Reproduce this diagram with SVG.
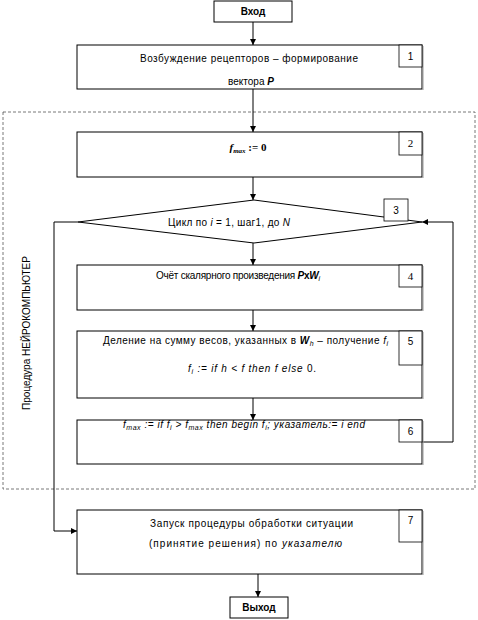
<svg xmlns="http://www.w3.org/2000/svg" width="478" height="620" viewBox="0 0 478 620">
<style>
.box{fill:#fff;stroke:#000;stroke-width:1}
.num{fill:#fff;stroke:#000;stroke-width:0.8}
.sh{stroke:#999;stroke-width:1}
.t{font-family:"Liberation Sans",Arial,sans-serif;font-size:10px;fill:#000}
.s{font-family:"Liberation Serif","Times New Roman",serif;font-size:11px;fill:#000}
.b{font-weight:bold}
.i{font-style:italic}
.line{fill:none;stroke:#000;stroke-width:1}
.dash{fill:none;stroke:#555;stroke-width:0.8;stroke-dasharray:3 2}
</style>
<defs>
<marker id="ar" markerUnits="userSpaceOnUse" markerWidth="6" markerHeight="6" refX="6" refY="3" orient="auto">
<path d="M0,0 L6,3 L0,6 z" fill="#000"/>
</marker>
</defs>
<rect class="dash" x="3" y="112" width="472" height="377"/>
<text class="t" x="0" y="0" font-size="8" text-anchor="middle" transform="translate(30,333) rotate(-90)">Процедура НЕЙРОКОМПЬЮТЕР</text>
<g id="connectors">
<line class="line" x1="253" y1="22" x2="253" y2="45" marker-end="url(#ar)"/>
<line class="line" x1="253" y1="89" x2="253" y2="132" marker-end="url(#ar)"/>
<line class="line" x1="253" y1="177" x2="253" y2="200" marker-end="url(#ar)"/>
<line class="line" x1="253" y1="243" x2="253" y2="265" marker-end="url(#ar)"/>
<line class="line" x1="253" y1="310" x2="253" y2="331" marker-end="url(#ar)"/>
<line class="line" x1="253" y1="398" x2="253" y2="420" marker-end="url(#ar)"/>
<polyline class="line" points="422,442 453,442 453,222 422,222" marker-end="url(#ar)"/>
<polyline class="line" points="78,222 54,222 54,531 77,531" marker-end="url(#ar)"/>
<line class="line" x1="258" y1="574" x2="258" y2="597" marker-end="url(#ar)"/>
</g>
<g id="start">
<rect class="box" x="214" y="1" width="78" height="21"/>
<text class="t b" x="253" y="15" text-anchor="middle">Вход</text>
</g>
<g id="n1">
<rect class="box" x="77" y="45" width="345" height="44"/>
<line class="sh" x1="423" y1="46" x2="423" y2="90"/>
<rect class="num" x="399" y="45" width="23" height="22"/>
<text class="t" x="410.5" y="60" text-anchor="middle">1</text>
<text class="t" x="249" y="62" text-anchor="middle" textLength="218" lengthAdjust="spacing">Возбуждение рецепторов – формирование</text>
<text class="t" x="251" y="85" text-anchor="middle">вектора <tspan class="b i">P</tspan></text>
</g>
<g id="n2">
<rect class="box" x="77" y="132" width="345" height="45"/>
<line class="sh" x1="423" y1="133" x2="423" y2="178"/>
<rect class="num" x="399" y="132" width="23" height="23"/>
<text class="s" x="410.5" y="147" text-anchor="middle">2</text>
<text class="s b" x="248" y="151" text-anchor="middle"><tspan class="i">f</tspan><tspan class="i" font-size="7" dy="2">max</tspan><tspan dy="-2"> := 0</tspan></text>
</g>
<g id="n3">
<polygon class="box" points="254,200 422,222 254,243 78,222"/>
<rect class="num" x="384" y="199" width="24" height="22"/>
<text class="t" x="396" y="214" text-anchor="middle">3</text>
<text class="t" x="229" y="226" text-anchor="middle" textLength="122" lengthAdjust="spacing">Цикл по <tspan class="i">i</tspan> = 1, шаг1, до <tspan class="i">N</tspan></text>
</g>
<g id="n4">
<rect class="box" x="77" y="265" width="345" height="45"/>
<line class="sh" x1="423" y1="266" x2="423" y2="311"/>
<rect class="num" x="399" y="265" width="23" height="22"/>
<text class="s" x="410.5" y="280" text-anchor="middle">4</text>
<text class="t" x="156" y="279" textLength="164" lengthAdjust="spacing">Очёт скалярного произведения <tspan class="b i">P</tspan><tspan class="b">x</tspan><tspan class="b i">W</tspan><tspan class="i" font-size="7" dy="2">i</tspan></text>
</g>
<g id="n5">
<rect class="box" x="77" y="331" width="345" height="67"/>
<line class="sh" x1="423" y1="332" x2="423" y2="399"/>
<rect class="num" x="399" y="331" width="23" height="34"/>
<text class="t" x="410.5" y="345" text-anchor="middle">5</text>
<text class="t" x="103" y="344" textLength="285" lengthAdjust="spacing">Деление на сумму весов, указанных в <tspan class="b i">W</tspan><tspan class="i" font-size="7" dy="2">h</tspan><tspan dy="-2">  – получение </tspan><tspan class="i">f</tspan><tspan class="i" font-size="7" dy="2">i</tspan></text>
<text class="t i" x="188" y="372" textLength="128" lengthAdjust="spacing">f<tspan font-size="7" dy="2">i</tspan><tspan dy="-2"> := if h &lt; f then f  else </tspan><tspan font-style="normal">0.</tspan></text>
</g>
<g id="n6">
<rect class="box" x="77" y="420" width="345" height="44"/>
<line class="sh" x1="423" y1="421" x2="423" y2="465"/>
<rect class="num" x="399" y="420" width="23" height="22"/>
<text class="t" x="410.5" y="435" text-anchor="middle">6</text>
<text class="t i" x="123" y="428" textLength="242" lengthAdjust="spacing">f<tspan font-size="7" dy="2">max</tspan><tspan dy="-2"> := if f</tspan><tspan font-size="7" dy="2">i</tspan><tspan dy="-2"> &gt; f</tspan><tspan font-size="7" dy="2">max</tspan><tspan dy="-2"> then begin f</tspan><tspan font-size="7" dy="2">i</tspan><tspan dy="-2">; указатель:= i end</tspan></text>
</g>
<g id="n7">
<rect class="box" x="77" y="510" width="345" height="64"/>
<line class="sh" x1="423" y1="511" x2="423" y2="575"/>
<rect class="num" x="399" y="510" width="23" height="32"/>
<text class="t" x="410.5" y="524" text-anchor="middle">7</text>
<text class="t" x="150" y="527" textLength="203" lengthAdjust="spacing">Запуск процедуры обработки ситуации</text>
<text class="t" x="149" y="547" textLength="193" lengthAdjust="spacing">(принятие решения) по <tspan class="i">указателю</tspan></text>
</g>
<g id="end">
<rect class="box" x="230" y="597" width="58" height="21"/>
<text class="t b" x="259" y="611" text-anchor="middle">Выход</text>
</g>
</svg>
